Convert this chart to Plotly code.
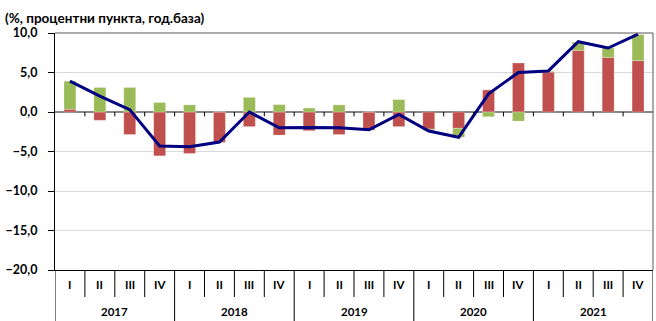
import plotly.graph_objects as go

years = ["2017"] * 4 + ["2018"] * 4 + ["2019"] * 4 + ["2020"] * 4 + ["2021"] * 4
quarters = ["I", "II", "III", "IV"] * 5
year_labels = ["2017", "2018", "2019", "2020", "2021"]

red_vals = [0.35, -1.05, -2.85, -5.55, -5.25, -3.85, -1.85, -2.92, -2.37, -2.85,
            -2.3, -1.85, -2.17, -2.07, 2.8, 6.2, 5.05, 7.8, 6.9, 6.5]
green_vals = [3.55, 3.1, 3.1, 1.2, 0.9, 0.0, 1.85, 0.93, 0.5, 0.9,
              0.0, 1.57, -0.15, -1.13, -0.6, -1.15, 0.1, 1.05, 1.2, 3.3]
line_vals = [3.9, 2.0, 0.3, -4.3, -4.4, -3.8, 0.0, -2.0, -1.95, -2.0,
             -2.25, -0.3, -2.4, -3.2, 2.3, 5.0, 5.2, 8.9, 8.1, 9.85]
y_ticks = [-20, -15, -10, -5, 0, 5, 10]

FONT = "Lato"
cats = [f"{y} {q}" for y, q in zip(years, quarters)]
n = len(cats)

fig = go.Figure()
fig.add_trace(go.Bar(x=cats, y=red_vals, name="red", marker=dict(color="#C0504D",
                     line=dict(color="rgba(255,255,255,0.5)", width=0.5))))
fig.add_trace(go.Bar(x=cats, y=green_vals, name="green", marker=dict(color="#9BBB59",
                     line=dict(color="rgba(255,255,255,0.5)", width=0.5))))
fig.add_trace(go.Scatter(x=cats, y=line_vals, mode="lines", name="line",
                         line=dict(color="#000080", width=3)))

shapes = []
annotations = []
# small tick marks on the zero line between quarters
for i in range(n - 1):
    shapes.append(dict(type="line", xref="x", yref="y", x0=i + 0.5, x1=i + 0.5,
                       y0=0, y1=-0.55, line=dict(color="black", width=1)))
# plot-area border (top and right)
shapes.append(dict(type="line", xref="paper", yref="paper", x0=0, x1=1, y0=1, y1=1,
                   line=dict(color="#595959", width=1)))
shapes.append(dict(type="line", xref="paper", yref="paper", x0=1, x1=1, y0=0, y1=1,
                   line=dict(color="#595959", width=1)))
# category axis: quarter separators and year separators
for i in range(n + 1):
    is_year = (i % 4 == 0)
    shapes.append(dict(type="line", xref="x", yref="paper", ysizemode="pixel", yanchor=0,
                       x0=i - 0.5, x1=i - 0.5, y0=0, y1=-51 if is_year else -27,
                       line=dict(color="black", width=1)))
for i, q in enumerate(quarters):
    annotations.append(dict(x=i, y=0, xref="x", yref="paper", yshift=-14, text=f"<b>{q}</b>",
                            showarrow=False, yanchor="middle",
                            font=dict(family=FONT, size=11.5, color="black")))
for k, yl in enumerate(year_labels):
    annotations.append(dict(x=4 * k + 1.5, y=0, xref="x", yref="paper", yshift=-41,
                            text=f"<b>{yl}</b>", showarrow=False, yanchor="middle",
                            font=dict(family=FONT, size=11.5, color="black")))
annotations.append(dict(x=-52 / 598, y=1, xref="paper", yref="paper", yshift=15,
                        xanchor="left", yanchor="middle", showarrow=False,
                        text="<b>(%, процентни пункта, год.база)</b>",
                        font=dict(family=FONT, size=13.5, color="black")))

fig.update_layout(
    width=656, height=321,
    margin=dict(l=55, r=3, t=33, b=51),
    paper_bgcolor="white", plot_bgcolor="white",
    barmode="relative", bargap=0.6,
    showlegend=False,
    separators=",.",
    font=dict(family=FONT, size=11, color="black"),
    shapes=shapes,
    annotations=annotations,
)
fig.update_yaxes(range=[-20, 10], tickvals=y_ticks, tickformat=".1f", automargin=False,
                 showgrid=True, gridcolor="#D9D9D9", gridwidth=1,
                 zeroline=True, zerolinecolor="#868686", zerolinewidth=2,
                 showline=True, linecolor="black", linewidth=1,
                 ticks="outside", ticklen=6, tickcolor="black", ticklabelstandoff=8,
                 tickfont=dict(family=FONT, size=12.5, color="black", weight="bold"))
fig.update_xaxes(type="category", range=[-0.5, n - 0.5], automargin=False,
                 showline=True, linecolor="black", linewidth=1,
                 showticklabels=False, ticks="", showgrid=False)

fig.write_html("out.html", config={"displayModeBar": False},
               post_script="document.body.style.margin='0';document.body.style.overflow='hidden';")
